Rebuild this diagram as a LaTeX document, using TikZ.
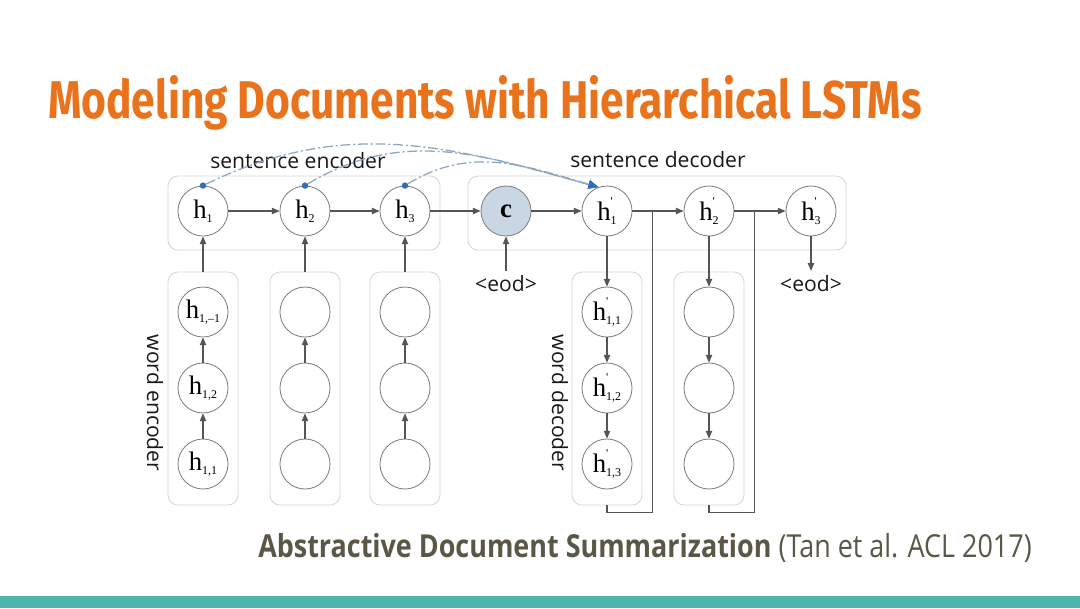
\documentclass[tikz,border=0pt]{standalone}
\usepackage{fontspec}
\setmainfont{Liberation Serif}
\newfontfamily\titlefont[FakeStretch=0.8]{Fira Sans}
\newfontfamily\capfont{Open Sans}
\newfontfamily\citefont[FakeStretch=0.85]{Open Sans}
\usetikzlibrary{arrows.meta,positioning,calc}
\definecolor{titleOrange}{HTML}{E8731C}
\definecolor{ctxFill}{HTML}{C9D7E5}
\definecolor{lineGray}{HTML}{555555}
\definecolor{boxGray}{HTML}{D6D6D6}
\definecolor{attnBlue}{HTML}{2F6FB5}
\definecolor{attnLine}{HTML}{8EA6BE}
\definecolor{citeGray}{HTML}{5A5746}
\definecolor{barTeal}{HTML}{4DB5AB}
% h with small index, h' with small index
\newcommand{\hsub}[1]{h\raisebox{-0.35ex}{\fontsize{8.5}{9}\selectfont #1}}
\newcommand{\hprm}[1]{h\rlap{\raisebox{1.2ex}{\fontsize{8.5}{9}\selectfont\textquotesingle}}\raisebox{-0.35ex}{\fontsize{8.5}{9}\selectfont #1}}
\tikzset{
myCell/.style={
	circle,draw=black!50,fill=white,line width=0.6pt,
	inner sep=0pt,minimum size=1.25cm,
	font=\fontsize{19}{20}\selectfont
}
, myCtx/.style={myCell,fill=ctxFill}
, myGroup/.style={
	rectangle,draw=boxGray,rounded corners=0.25cm,line width=0.6pt,
	inner sep=0pt,minimum width=1.75cm,minimum height=5.825cm
}
, myDot/.style={circle,fill=attnBlue,inner sep=0pt,minimum size=1.6mm}
, myLabel/.style={font=\capfont\fontsize{15}{17}\selectfont,text=black!90}
% link
, myLink/.style={-{Triangle[length=5.5pt,width=4.5pt]},color=lineGray,line width=0.8pt}
, myBack/.style={color=lineGray,line width=0.8pt}
, myAttn/.style={-{Triangle[length=7pt,width=6pt,color=attnBlue]},color=attnLine,line width=0.9pt,
	dash pattern=on 7pt off 2pt on 1.5pt off 2pt}
}

\begin{document}
\begin{tikzpicture}[x=0.025cm,y=-0.025cm]
	\useasboundingbox (0,0) rectangle (1080,608);
	\fill[white] (0,0) rectangle (1080,608);
	\fill[barTeal] (0,596) rectangle (1080,608);

	% title
	\node[anchor=base west,inner sep=0pt,text=titleOrange] (title) at (48,118)
		{\resizebox{621pt}{!}{\titlefont\bfseries Modeling Documents with Hierarchical LSTMs}};

	% groups
	\node[myGroup,minimum width=6.8cm,minimum height=1.85cm] (encS) at (304,213) {};
	\node[myGroup,minimum width=9.45cm,minimum height=1.85cm] (decS) at (657,213) {};
	\node[myGroup] (encW1) at (203,388.5) {};
	\node[myGroup] (encW2) at (305,388.5) {};
	\node[myGroup] (encW3) at (405,388.5) {};
	\node[myGroup] (decW1) at (607,388.5) {};
	\node[myGroup] (decW2) at (709,388.5) {};

	% sentence nodes
	\node[myCell] (h1) at (203,211) {\hsub{1}};
	\node[myCell] (h2) at (305,211) {\hsub{2}};
	\node[myCell] (h3) at (405,211) {\hsub{3}};
	\node[myCtx]  (c)  at (506,211) {\textbf{c}};
	\node[myCell] (hd1) at (607,211) {\hprm{1}};
	\node[myCell] (hd2) at (709,211) {\hprm{2}};
	\node[myCell] (hd3) at (811,211) {\hprm{3}};

	% word nodes
	\node[myCell] (w13) at (203,312) {\hsub{1,–1}};
	\node[myCell] (w12) at (203,388) {\hsub{1,2}};
	\node[myCell] (w11) at (203,464) {\hsub{1,1}};
	\node[myCell] (w23) at (305,312) {};
	\node[myCell] (w22) at (305,388) {};
	\node[myCell] (w21) at (305,464) {};
	\node[myCell] (w33) at (405,312) {};
	\node[myCell] (w32) at (405,388) {};
	\node[myCell] (w31) at (405,464) {};
	\node[myCell] (d11) at (607,312) {\hprm{1,1}};
	\node[myCell] (d12) at (607,388) {\hprm{1,2}};
	\node[myCell] (d13) at (607,464) {\hprm{1,3}};
	\node[myCell] (d21) at (709,312) {};
	\node[myCell] (d22) at (709,388) {};
	\node[myCell] (d23) at (709,464) {};

	% labels
	\node[myLabel] (encLbl) at (298,161) {sentence encoder};
	\node[myLabel] (decLbl) at (658,160) {sentence decoder};
	\node[myLabel,rotate=-90] (wEncLbl) at (155,403) {word encoder};
	\node[myLabel,rotate=-90] (wDecLbl) at (560,403) {word decoder};
	\node[myLabel] (eod1) at (506,284) {<eod>};
	\node[myLabel] (eod2) at (811,284) {<eod>};

	% links
	\draw[myLink] (h1) -- (h2);
	\draw[myLink] (h2) -- (h3);
	\draw[myLink] (h3) -- (c);
	\draw[myLink] (c) -- (hd1);
	\draw[myLink] (hd1) -- (hd2);
	\draw[myLink] (hd2) -- (hd3);
	\draw[myLink] (eod1) -- (c);
	\draw[myLink] (hd3) -- (eod2);
	\foreach \col in {1,2,3}{
		\draw[myLink] (w\col1) -- (w\col2);
		\draw[myLink] (w\col2) -- (w\col3);
		\draw[myLink] (encW\col.north) -- (h\col.south);
	}
	\foreach \col in {1,2}{
		\draw[myLink] (hd\col) -- (d\col1);
		\draw[myLink] (d\col1) -- (d\col2);
		\draw[myLink] (d\col2) -- (d\col3);
	}
	% feedback
	\coordinate (j1) at ($(hd1.east)!0.4!(hd2.west)$);
	\coordinate (j2) at ($(hd2.east)!0.4!(hd3.west)$);
	\draw[myBack] (decW1.south) -- ++(0,7) -| (j1);
	\draw[myBack] (decW2.south) -- ++(0,7) -| (j2);

	% attention
	\node[myDot] (a1) at (h1.north) {};
	\node[myDot] (a2) at (h2.north) {};
	\node[myDot] (a3) at (h3.north) {};
	\draw[myAttn] (a1) .. controls +(140,-68) and +(-150,-42) .. (hd1.110);
	\draw[myAttn] (a2) .. controls +(100,-60) and +(-110,-30) .. (hd1.110);
	\draw[myAttn] (a3) .. controls +(66,-40) and +(-75,-22) .. (hd1.110);

	% reference
	\node[anchor=base west,inner sep=0pt] (cite) at (258,557)
		{\resizebox{550pt}{!}{\citefont\color{citeGray}\textbf{Abstractive Document Summarization} (Tan et al. ACL 2017)}};
\end{tikzpicture}
\end{document}
